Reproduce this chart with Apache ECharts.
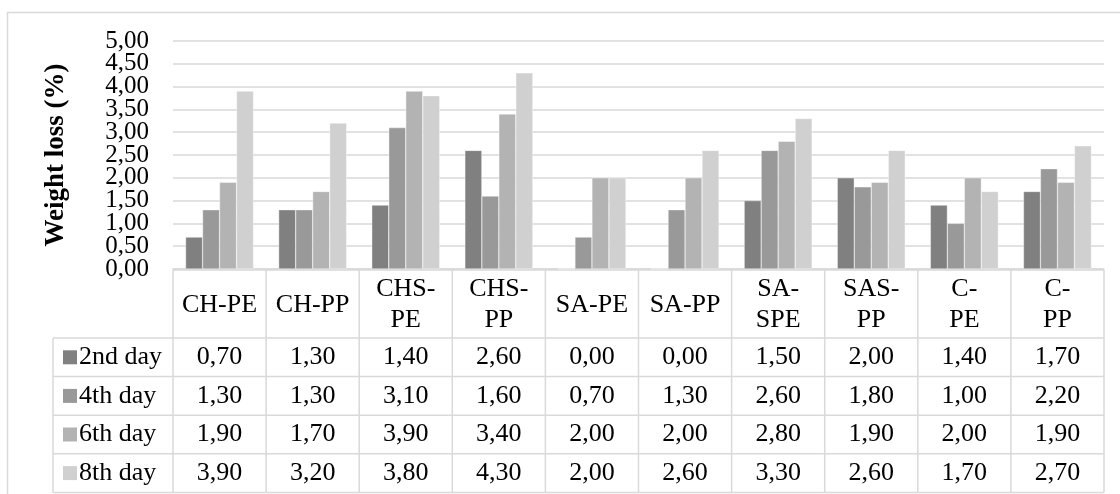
<!DOCTYPE html>
<html>
<head>
<meta charset="utf-8">
<script src="https://cdn.jsdelivr.net/npm/echarts@6/dist/echarts.min.js"></script>
<style>
  html, body { margin: 0; padding: 0; background: #ffffff; }
  #chart { width: 1120px; height: 494px; }
</style>
</head>
<body>
<div id="chart"></div>
<script>
// Samples on the category axis
const categories = ['CH-PE', 'CH-PP', 'CHS-PE', 'CHS-PP', 'SA-PE', 'SA-PP', 'SA-SPE', 'SAS-PP', 'C-PE', 'C-PP'];
// Column headings of the data table, wrapped as printed
const headerLabels = ['CH-PE', 'CH-PP', 'CHS-\nPE', 'CHS-\nPP', 'SA-PE', 'SA-PP', 'SA-\nSPE', 'SAS-\nPP', 'C-\nPE', 'C-\nPP'];
// Storage days (series)
const seriesNames = ['2nd day', '4th day', '6th day', '8th day'];
// Weight loss (%) per sample
const day2 = [0.70, 1.30, 1.40, 2.60, 0.00, 0.00, 1.50, 2.00, 1.40, 1.70];
const day4 = [1.30, 1.30, 3.10, 1.60, 0.70, 1.30, 2.60, 1.80, 1.00, 2.20];
const day6 = [1.90, 1.70, 3.90, 3.40, 2.00, 2.00, 2.80, 1.90, 2.00, 1.90];
const day8 = [3.90, 3.20, 3.80, 4.30, 2.00, 2.60, 3.30, 2.60, 1.70, 2.70];
// Value axis ticks
const yTicks = [0, 0.5, 1, 1.5, 2, 2.5, 3, 3.5, 4, 4.5, 5];
const yTickLabels = ['0,00', '0,50', '1,00', '1,50', '2,00', '2,50', '3,00', '3,50', '4,00', '4,50', '5,00'];

const seriesData = [day2, day4, day6, day8];
const colors = ['#808080', '#999999', '#b3b3b3', '#d0d0d0'];
const FONT = '"Liberation Serif", "Times New Roman", serif';
const GRID_LINE = '#d9d9d9';
const fmt = v => v.toFixed(2).replace('.', ',');

const chart = echarts.init(document.getElementById('chart'), null, { renderer: 'canvas' });

chart.setOption({
  animation: false,
  backgroundColor: '#ffffff',
  grid: { left: 173, right: 16, top: 41, bottom: 225, containLabel: false },
  xAxis: {
    type: 'category',
    data: categories,
    axisLine: { show: true, lineStyle: { color: GRID_LINE, width: 1.5 } },
    axisTick: { show: false },
    axisLabel: { show: false },
    splitLine: { show: false }
  },
  yAxis: {
    type: 'value',
    min: yTicks[0],
    max: yTicks[yTicks.length - 1],
    interval: yTicks[1] - yTicks[0],
    name: 'Weight loss (%)',
    nameLocation: 'middle',
    nameRotate: 90,
    nameGap: 103,
    nameTextStyle: { fontFamily: FONT, fontSize: 27, fontWeight: 'bold', color: '#000000' },
    axisLine: { show: false },
    axisTick: { show: false },
    // tick labels are tightly packed, so they are set as graphic text below
    axisLabel: { show: false },
    splitLine: { show: true, lineStyle: { color: GRID_LINE, width: 1.5 } }
  },
  series: seriesData.map((d, i) => ({
    name: seriesNames[i],
    type: 'bar',
    data: d,
    barGap: '0%',
    barCategoryGap: '27%',
    itemStyle: { color: colors[i], borderColor: '#ffffff', borderWidth: 0.4 }
  }))
});

// Tick labels and the data table under the plot, aligned on the axes
function drawExtras() {
  const n = categories.length;
  const centers = categories.map((c, i) => chart.convertToPixel({ xAxisIndex: 0 }, i));
  const band = centers[1] - centers[0];
  const colLeft = centers[0] - band / 2;
  const colRight = centers[n - 1] + band / 2;
  const top = chart.convertToPixel({ yAxisIndex: 0 }, 0) + 1;
  const headerBottom = top + 68;
  const rowH = 38.6;
  const bottom = headerBottom + rowH * seriesNames.length;
  const labelLeft = 53;

  const g = [];
  const line = (x1, y1, x2, y2) => g.push({
    type: 'line', silent: true,
    shape: { x1, y1, x2, y2 },
    style: { stroke: GRID_LINE, lineWidth: 1.5 }
  });
  const text = (t, x, y, align, size) => g.push({
    type: 'text', silent: true,
    style: { text: t, x, y, align: align || 'center', verticalAlign: 'middle',
             font: (size || 26) + 'px ' + FONT, fill: '#000000', lineHeight: 31 }
  });

  // outer chart-area frame
  g.push({ type: 'rect', silent: true, shape: { x: 7.5, y: 12.5, width: 1140, height: 520 },
           style: { fill: 'none', stroke: GRID_LINE, lineWidth: 1.5 } });

  // value-axis tick labels
  yTicks.forEach((v, i) => {
    text(yTickLabels[i], colLeft - 24, chart.convertToPixel({ yAxisIndex: 0 }, v), 'right', 25);
  });

  // horizontal rules
  line(colLeft, top, colRight, top);
  line(labelLeft, headerBottom, colRight, headerBottom);
  for (let r = 1; r <= seriesNames.length; r++) {
    const y = headerBottom + rowH * r;
    line(labelLeft, y, colRight, y);
  }
  // vertical rules
  line(labelLeft, headerBottom, labelLeft, bottom);
  for (let c = 0; c <= n; c++) {
    const x = colLeft + band * c;
    line(x, top, x, bottom);
  }
  // column headings
  headerLabels.forEach((h, i) => text(h, centers[i], (top + headerBottom) / 2 + 1));
  // rows: legend key, series name and values
  seriesNames.forEach((name, r) => {
    const cy = headerBottom + rowH * (r + 0.5);
    g.push({ type: 'rect', silent: true, shape: { x: 63, y: cy - 7, width: 14, height: 14 },
             style: { fill: colors[r] } });
    text(name, 79, cy, 'left');
    seriesData[r].forEach((v, i) => text(fmt(v), centers[i], cy));
  });

  chart.setOption({ graphic: { elements: g } });
}
drawExtras();
</script>
</body>
</html>
